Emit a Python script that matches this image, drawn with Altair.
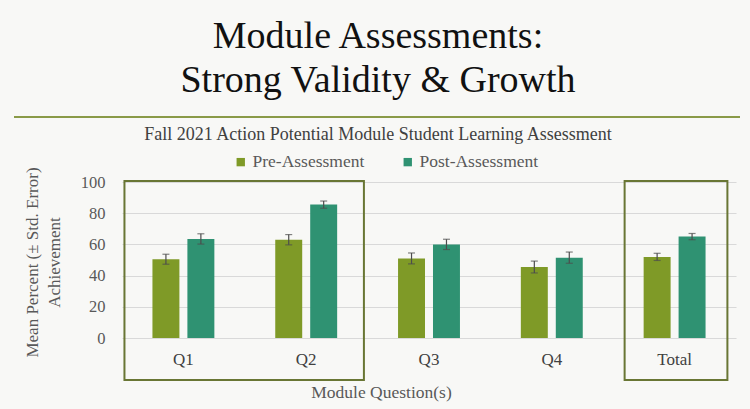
import altair as alt
import pandas as pd

categories = ["Q1", "Q2", "Q3", "Q4", "Total"]
pre_values = [50.5, 63.0, 51.0, 45.5, 52.0]
post_values = [63.5, 85.5, 60.0, 51.5, 65.0]
pre_errors = [3.2, 3.3, 3.5, 3.8, 2.3]
post_errors = [3.3, 2.3, 3.3, 3.6, 2.0]
series = ["Pre-Assessment", "Post-Assessment"]
colors = ["#7f9a27", "#2f9272"]
y_ticks = [0, 20, 40, 60, 80, 100]

rows = []
for c, pv, pe, qv, qe in zip(categories, pre_values, pre_errors, post_values, post_errors):
    rows.append({"cat": c, "series": series[0], "value": pv, "lo": pv - pe, "hi": pv + pe})
    rows.append({"cat": c, "series": series[1], "value": qv, "lo": qv - qe, "hi": qv + qe})
df = pd.DataFrame(rows)

SERIF = "Liberation Serif"
GRAY = "#595959"

xscale = alt.Scale(domain=categories, paddingInner=0, paddingOuter=0)
offscale = alt.Scale(domain=series, paddingInner=0.2286, paddingOuter=0.871)
yscale = alt.Scale(domain=[0, 100], nice=False)

x_axis = alt.Axis(
    title="Module Question(s)", labelAngle=0, domain=False, ticks=False, grid=False,
    labelFont=SERIF, labelFontSize=17, labelColor="#404040", labelPadding=13,
    titleFont=SERIF, titleFontSize=17.5, titleColor=GRAY, titleFontWeight="normal",
    titleX=259, titleY=54, titleBaseline="middle", titleAlign="center",
)
y_axis = alt.Axis(
    values=y_ticks, tickCount=6, domain=False, ticks=False, grid=True,
    gridColor="#d9d9d9", gridWidth=1, labelOverlap=False, labelFlush=False,
    labelFont=SERIF, labelFontSize=16.5, labelColor=GRAY, labelPadding=17,
    title=["Mean Percent (± Std. Error)", "Achievement"],
    titleFont=SERIF, titleFontSize=17, titleColor=GRAY, titleFontWeight="normal",
    titleAngle=270, titleX=-90, titleY=80, titleAlign="center",
    titleBaseline="middle", titleLineHeight=22,
)

x_enc = alt.X("cat:N", scale=xscale, sort=categories, axis=x_axis)
off_enc = alt.XOffset("series:N", scale=offscale, sort=series)

base = alt.Chart(df)

bars = base.mark_bar().encode(
    x=x_enc,
    xOffset=off_enc,
    y=alt.Y("value:Q", scale=yscale, axis=y_axis),
    color=alt.Color(
        "series:N", scale=alt.Scale(domain=series, range=colors), sort=series,
        legend=alt.Legend(
            title=None, orient="none", direction="horizontal", legendX=110, legendY=-29,
            symbolType="square", symbolSize=70, symbolStrokeWidth=0,
            labelFont=SERIF, labelFontSize=17.5, labelColor=GRAY, columnPadding=34,
            labelOffset=3,
        ),
    ),
)

err = base.mark_rule(color="#4d4d4d", strokeWidth=1.2).encode(
    x=x_enc,
    xOffset=off_enc,
    y=alt.Y("lo:Q", scale=yscale, axis=y_axis),
    y2="hi:Q",
)
cap_lo = base.mark_tick(color="#4d4d4d", size=7, thickness=1.2, orient="horizontal").encode(
    x=x_enc,
    xOffset=off_enc,
    y=alt.Y("lo:Q", scale=yscale, axis=y_axis),
)
cap_hi = base.mark_tick(color="#4d4d4d", size=7, thickness=1.2, orient="horizontal").encode(
    x=x_enc,
    xOffset=off_enc,
    y=alt.Y("hi:Q", scale=yscale, axis=y_axis),
)

box_src = pd.DataFrame({"start": ["Q1"], "end": ["Q2"]})
box_tot = pd.DataFrame({"start": ["Total"], "end": ["Total"]})
box_style = dict(fill=None, filled=False, stroke="#697634", strokeWidth=2)
box1 = alt.Chart(box_src).mark_rect(**box_style).encode(
    x=alt.X("start:N", scale=xscale, bandPosition=0.02, axis=x_axis),
    x2=alt.X2("end", bandPosition=0.97),
    y=alt.datum(100.6, scale=yscale, axis=y_axis),
    y2=alt.datum(-27),
)
box2 = alt.Chart(box_tot).mark_rect(**box_style).encode(
    x=alt.X("start:N", scale=xscale, bandPosition=0.093, axis=x_axis),
    x2=alt.X2("end", bandPosition=0.93),
    y=alt.datum(100.6, scale=yscale, axis=y_axis),
    y2=alt.datum(-27),
)

sep = alt.Chart(pd.DataFrame({"a": [0]})).mark_rule(color="#8a9a48", strokeWidth=2).encode(
    x=alt.value(-108), x2=alt.value(618), y=alt.value(-65)
)

chart = alt.layer(bars, err, cap_lo, cap_hi, box1, box2, sep).properties(
    width=614,
    height=156,
    padding={"left": 122, "top": 182, "right": 14, "bottom": 71},
    autosize=alt.AutoSizeParams(type="none"),
    background="#f8f8f6",
    title=alt.TitleParams(
        text=["Module Assessments:", "Strong Validity & Growth"],
        subtitle="Fall 2021 Action Potential Module Student Learning Assessment",
        font=SERIF, fontSize=38, fontWeight="normal", color="#111111", lineHeight=44,
        subtitleFont=SERIF, subtitleFontSize=18, subtitleColor="#404040",
        subtitlePadding=26, anchor="middle", offset=-28, dx=-51,
    ),
).configure_view(stroke=None)

chart.save("out.html", embed_options={"renderer": "svg", "actions": False})
